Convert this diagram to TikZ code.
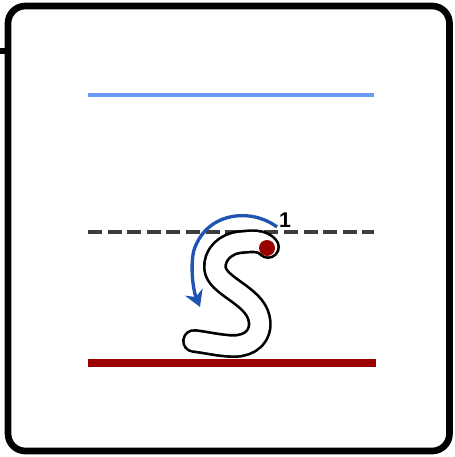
\documentclass[tikz,border=0pt]{standalone}
\usepackage{fontspec}
\setsansfont{Liberation Sans}
\usetikzlibrary{arrows.meta}
\definecolor{guideblue}{HTML}{6A9AF5}
\definecolor{guidered}{HTML}{990000}
\definecolor{guidegray}{HTML}{3C3C3C}
\definecolor{strokeblue}{HTML}{1F55B0}

\begin{document}
\begin{tikzpicture}[
  x=0.75pt, y=-0.75pt,
  guide/.style={line width=#1, line cap=butt},
  letterpath/.style={line width=#1, line cap=round, line join=round},
  stepnum/.style={font=\sffamily\bfseries\fontsize{16}{16}\selectfont, inner sep=0pt}
]
  \useasboundingbox (0,0) rectangle (454,457);
  % card frame
  \draw[line width=5pt, rounded corners=13pt] (8,6) rectangle (449.5,451);
  \draw[line width=5pt] (0,51) -- (8,51);

  % writing guides
  \draw[guide=3pt, guideblue] (88,94.5) -- (374,94.5);
  \draw[guide=2.6pt, guidegray, dash pattern=on 10.5pt off 4.2pt] (88,232) -- (374,232);
  \draw[guide=5.5pt, guidered] (88,363) -- (376,363);

  % letter s
  \coordinate (sstart) at (268,247);
  \coordinate (send) at (194,341);
  \foreach \w/\c in {18pt/black, 14pt/white}
    \draw[letterpath=\w, \c] (sstart) .. controls (262,240) and (252,241) .. (242,242)
      .. controls (225,243) and (214,255) .. (215,268)
      .. controls (216,286) and (254,295) .. (259,318)
      .. controls (263,336) and (250,346) .. (234,346)
      .. controls (220,346) and (205,342) .. (send);
  \fill[guidered] (267,248) circle (8);

  % stroke direction
  \coordinate (arrfrom) at (277,227);
  \coordinate (arrto) at (200,307);
  \draw[strokeblue, line width=2.5pt, -{Stealth[length=12pt, width=14pt]}]
    (arrfrom) .. controls (252,208) and (207,211) .. (194,250)
    .. controls (190,265) and (193,290) .. (arrto);
  \node[stepnum] (num1) at (285,220) {1};
\end{tikzpicture}
\end{document}
